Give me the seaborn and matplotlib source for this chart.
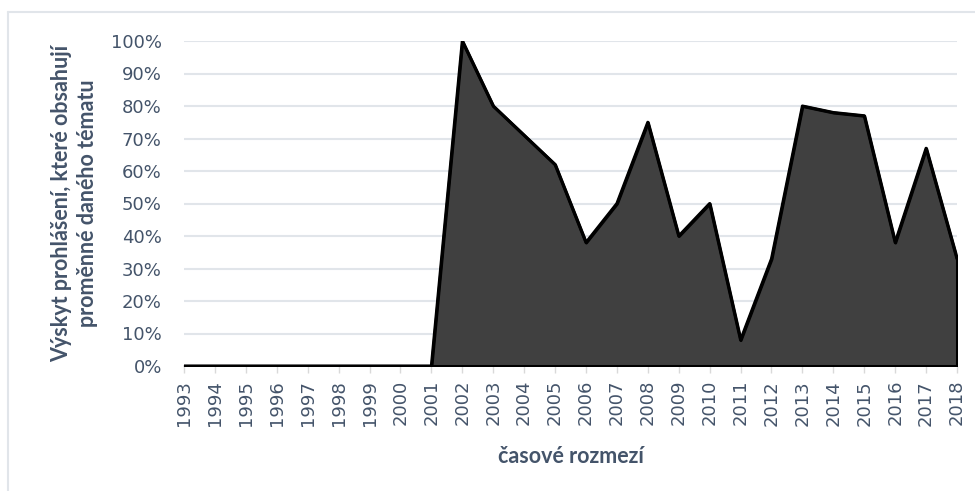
import matplotlib
matplotlib.use("Agg")
import pandas as pd
import seaborn as sns
import matplotlib.pyplot as plt
from matplotlib.ticker import PercentFormatter

years = list(range(1993, 2019))
share = [0, 0, 0, 0, 0, 0, 0, 0, 0,
         100, 80, 71, 62, 38, 50, 75, 40, 50, 8, 33, 80, 78, 77, 38, 67, 33]

df = pd.DataFrame({"year": years, "share": share})

sns.set_style("white")
plt.rcParams["font.family"] = ["Lato", "DejaVu Sans"]

text_col = "#44546A"
grid_col = "#E1E5EA"

fig = plt.figure(figsize=(9.75, 4.91), dpi=100)
ax = fig.add_axes([184 / 975, 1 - 366 / 491, 773 / 975, 325 / 491])

# chart area border (only top and left visible)
fig.add_artist(plt.Line2D([8 / 975, 8 / 975], [0, 1 - 12 / 491],
                          transform=fig.transFigure, color=grid_col, lw=1.5))
fig.add_artist(plt.Line2D([8 / 975, 1], [1 - 12 / 491, 1 - 12 / 491],
                          transform=fig.transFigure, color=grid_col, lw=1.5))

ax.fill_between(df["year"], df["share"], 0, facecolor="#404040",
                edgecolor="black", linewidth=2.2, zorder=3)
sns.lineplot(data=df, x="year", y="share", color="black", linewidth=2.2,
             ax=ax, zorder=4)

ax.set_xlim(1993, 2018)
ax.set_ylim(0, 100)
ax.set_yticks(range(0, 101, 10))
ax.yaxis.set_major_formatter(PercentFormatter(decimals=0))
ax.set_xticks(years)
ax.set_xticklabels([str(y) for y in years], rotation=90)

ax.grid(axis="y", color=grid_col, linewidth=1.5, zorder=0)
ax.set_axisbelow(True)
for s in ["top", "right", "left"]:
    ax.spines[s].set_visible(False)
ax.spines["bottom"].set_color("#D9D9D9")
ax.spines["bottom"].set_linewidth(1.2)

ax.tick_params(axis="y", length=0, pad=16, labelsize=13, labelcolor=text_col)
ax.tick_params(axis="x", length=5, width=1, color="#D9D9D9", pad=5,
               labelsize=13, labelcolor=text_col, bottom=True)
for lbl in ax.get_xticklabels() + ax.get_yticklabels():
    lbl.set_family("DejaVu Sans")

ax.set_xlabel("časové rozmezí", fontsize=15.5, fontweight="bold", color=text_col)
ax.xaxis.set_label_coords(0.5, -0.245)
ax.set_ylabel("Výskyt prohlášení, které obsahují\nproměnné daného tématu",
              fontsize=15.5, fontweight="bold", color=text_col, linespacing=1.3)
ax.yaxis.set_label_coords(-0.111, 0.5)

fig.savefig("out.png", dpi=100)
